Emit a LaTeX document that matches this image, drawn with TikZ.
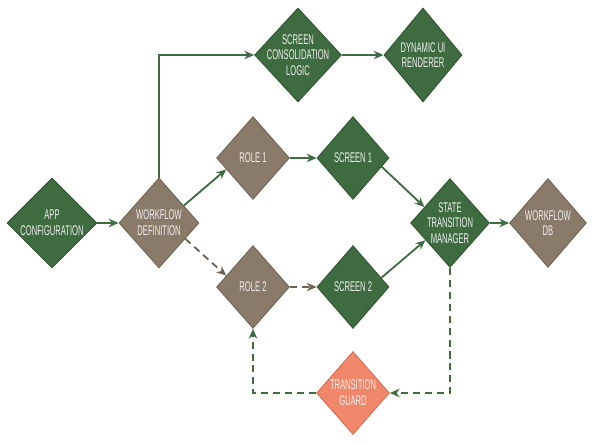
\documentclass[tikz,border=0pt]{standalone}
\usepackage{fontspec}
\setmainfont[FakeStretch=0.54]{Liberation Sans}
\usetikzlibrary{shapes.geometric,arrows.meta}
\definecolor{leaf}{HTML}{3E6B3F}
\definecolor{leafdark}{HTML}{2E5230}
\definecolor{taupe}{HTML}{8A7A6A}
\definecolor{taupedark}{HTML}{6E6152}
\definecolor{salmon}{HTML}{F0876B}
\definecolor{salmondark}{HTML}{D8684C}
\begin{document}
\begin{tikzpicture}[x=0.025cm, y=-0.025cm,
		dia/.style 2 args={diamond, inner sep=-12pt, minimum width=#1, minimum height=#2,
			line width=0.6pt, text=white!94!black, align=center, font=\fontsize{10}{11.2}\selectfont},
		gdia/.style 2 args={dia={#1}{#2}, fill=leaf, draw=leafdark},
		bdia/.style 2 args={dia={#1}{#2}, fill=taupe, draw=taupedark},
		sdia/.style 2 args={dia={#1}{#2}, fill=salmon, draw=salmondark},
		garrow/.style={-{Stealth[length=7pt,width=6pt]}, leaf, line width=1.3pt},
		barrow/.style={-{Stealth[length=7pt,width=6pt]}, taupedark, line width=1.3pt, dash pattern=on 5pt off 3.5pt},
		gdash/.style={-{Stealth[length=7pt,width=6pt]}, leaf, line width=1.3pt, dash pattern=on 5pt off 3.5pt}]
		\useasboundingbox (0, 0) rectangle (595, 445);
		\node[gdia={2.25cm}{2.25cm}] (appconf) at (52, 223) {APP\\CONFIGURATION};
		\node[bdia={2.0cm}{2.25cm}] (wfdef) at (159, 223) {WORKFLOW\\DEFINITION};
		\node[bdia={1.82cm}{2.07cm}] (role1) at (253, 158) {ROLE 1};
		\node[gdia={1.8cm}{2.07cm}] (screen1) at (353, 158) {SCREEN 1};
		\node[bdia={1.82cm}{2.07cm}] (role2) at (253, 287) {ROLE 2};
		\node[gdia={1.8cm}{2.07cm}] (screen2) at (353, 287) {SCREEN 2};
		\node[gdia={2.17cm}{2.35cm}] (scl) at (298, 55) {SCREEN\\CONSOLIDATION\\LOGIC};
		\node[gdia={1.95cm}{2.35cm}] (dui) at (423, 55) {DYNAMIC UI\\RENDERER};
		\node[gdia={1.97cm}{2.22cm}] (stm) at (450, 223) {STATE\\TRANSITION\\MANAGER};
		\node[bdia={1.92cm}{2.22cm}] (wfdb) at (548, 223) {WORKFLOW\\DB};
		\node[sdia={1.82cm}{2.07cm}] (guard) at (353, 393) {TRANSITION\\GUARD};
		\draw[garrow] (appconf) -- (wfdef);
		\draw[garrow] (wfdef.north) |- (scl.west);
		\draw[garrow] (scl) -- (dui);
		\draw[garrow] (wfdef.35) -- (role1.203);
		\draw[barrow] (wfdef.-31) -- (role2.157);
		\draw[garrow] (role1) -- (screen1);
		\draw[barrow] (role2) -- (screen2);
		\draw[garrow] (screen1.-17) -- (stm.148);
		\draw[garrow] (screen2.18) -- (stm.215);
		\draw[garrow] (stm) -- (wfdb);
		\draw[gdash] (stm.south) |- (guard.east);
		\draw[gdash] (guard.west) -| (role2.south);
	\end{tikzpicture}
\end{document}
